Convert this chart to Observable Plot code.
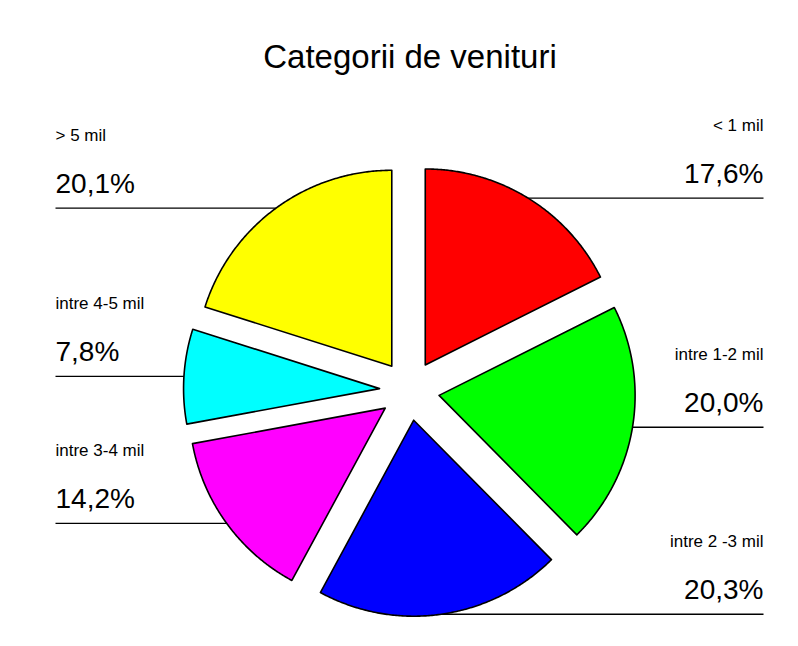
<!DOCTYPE html>
<html><head><meta charset="utf-8">
<script src="https://cdn.jsdelivr.net/npm/d3@7"></script>
<script src="https://cdn.jsdelivr.net/npm/@observablehq/plot@0.6"></script>
<style>
body{margin:0;background:#fff;font-family:"Liberation Sans",Arial,sans-serif}
#wrap{width:798px;height:646px;position:relative;overflow:hidden;background:#fff}
#title{box-sizing:border-box;width:798px;height:88px;padding-top:37px;padding-left:22px;text-align:center;font-size:33px;line-height:40px;color:#000;font-family:"Liberation Sans",Arial,sans-serif}
#chart svg{display:block}
</style></head><body>
<div id="wrap"><div id="title">Categorii de venituri</div><div id="chart"></div></div>
<script>
// Data
const categories = ["< 1 mil", "intre 1-2 mil", "intre 2 -3 mil", "intre 3-4 mil", "intre 4-5 mil", "> 5 mil"];
const values = [17.6, 20.0, 20.3, 14.2, 7.8, 20.1];
const colors = ["#ff0000", "#00ff00", "#0000ff", "#ff00ff", "#00ffff", "#ffff00"];

// Layout constants (pixels)
const R = 196, EXPLODE = 30, LABEL_X = 354, STEPS = 160;

const arcs = d3.pie().sort(null).value(d => d)(values);

const slicePts = [];
const leaders = [];
const labels = [];
arcs.forEach((a, i) => {
  const mid = (a.startAngle + a.endAngle) / 2;
  const ox = EXPLODE * Math.sin(mid), oy = EXPLODE * Math.cos(mid);
  slicePts.push({cat: categories[i], x: ox, y: oy});
  for (let k = 0; k <= STEPS; k++) {
    const t = a.startAngle + (a.endAngle - a.startAngle) * k / STEPS;
    slicePts.push({cat: categories[i], x: ox + R * Math.sin(t), y: oy + R * Math.cos(t)});
  }
  const px = ox + R * Math.sin(mid), py = oy + R * Math.cos(mid);
  const right = mid < Math.PI;
  const lx = right ? LABEL_X : -LABEL_X;
  leaders.push({x1: px, x2: lx, y: py});
  labels.push({x: lx, y: py, cat: categories[i], pct: values[i].toFixed(1).replace(".", ",") + "%", anchor: right ? "end" : "start"});
});

const rightL = labels.filter(d => d.anchor === "end");
const leftL = labels.filter(d => d.anchor === "start");

const chart = Plot.plot({
  width: 798,
  height: 558,
  margin: 0,
  style: {fontFamily: "'Liberation Sans', Arial, sans-serif", background: "#fff"},
  x: {type: "linear", domain: [-409, 389], range: [0, 798], axis: null},
  y: {type: "linear", domain: [-256, 302], range: [558, 0], axis: null},
  color: {domain: categories, range: colors},
  marks: [
    Plot.link(leaders, {x1: "x1", x2: "x2", y1: "y", y2: "y", stroke: "#000", strokeWidth: 1.3}),
    Plot.line(slicePts, {x: "x", y: "y", z: "cat", fill: "cat", stroke: "#000", strokeWidth: 1.6, curve: "linear-closed", strokeLinejoin: "round"}),
    Plot.text(rightL, {x: "x", y: d => d.y + 15, text: "pct", textAnchor: "end", lineAnchor: "bottom", fontSize: 28, fill: "#000"}),
    Plot.text(rightL, {x: "x", y: d => d.y + 67, text: "cat", textAnchor: "end", lineAnchor: "bottom", fontSize: 17, fill: "#000"}),
    Plot.text(leftL, {x: "x", y: d => d.y + 15, text: "pct", textAnchor: "start", lineAnchor: "bottom", fontSize: 28, fill: "#000"}),
    Plot.text(leftL, {x: "x", y: d => d.y + 67, text: "cat", textAnchor: "start", lineAnchor: "bottom", fontSize: 17, fill: "#000"})
  ]
});
document.getElementById("chart").appendChild(chart);
</script>
</body></html>
